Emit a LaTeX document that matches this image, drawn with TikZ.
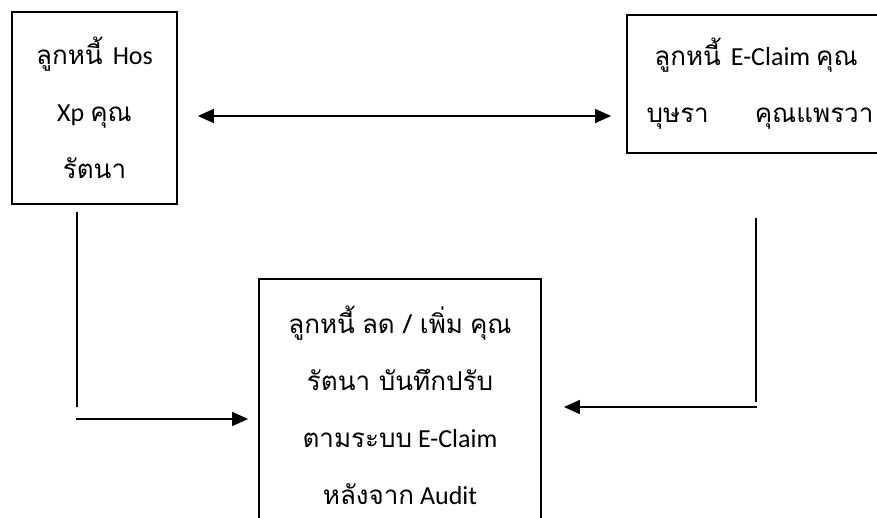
\documentclass[tikz,border=0pt]{standalone}
\usepackage{fontspec}
\setmainfont{Carlito}
\newfontfamily\thaifont[Script=Thai]{Loma}
\newcommand\thx[1]{{\thaifont #1}}
\usetikzlibrary{arrows.meta,calc}
\begin{document}
\begin{tikzpicture}[x=1pt,y=-1pt,
 box/.style={draw, line width=1.8pt, align=center, font=\fontsize{26}{57}\selectfont, inner sep=0pt},
 conn/.style={line width=1.6pt},
 tip/.tip={Triangle[length=16pt,width=14pt]},
 arr/.style={conn, -tip},
]
\useasboundingbox (0,0) rectangle (877,518);
\clip (0,0) rectangle (877,518);
\node[box, minimum width=165, minimum height=192] (A) at (94.5,108)
  {\thx{ลูกหนี้}\hspace{10pt}Hos\\Xp \thx{คุณ}\\\thx{รัตนา}};
\node[box, minimum width=258, minimum height=138] (B) at (756,84)
  {\thx{ลูกหนี้}\hspace{10pt}E-Claim \thx{คุณ}\\\hspace{8pt}\thx{บุษรา}\hspace{46pt}\thx{คุณแพรวา}};
\node[box, minimum width=282, minimum height=252] (C) at (400,405)
  {\thx{ลูกหนี้}\hspace{7pt}\thx{ลด / เพิ่ม}\hspace{7pt}\thx{คุณ}\\\thx{รัตนา บันทึกปรับ}\\\thx{ตามระบบ} E-Claim\\\thx{หลังจาก} Audit};
\draw[conn, tip-tip] ($(A.east)+(20,8)$) -- ($(A.east -| B.west)+(-15,8)$);
\draw[conn] ($(A.south)+(-17.5,7)$) -- ($(A.south)+(-17.5,202)$);
\draw[arr] ($(C.west)+(-182,14)$) -- ($(C.west)+(-10,14)$);
\draw[conn] ($(B.south)+(0,64)$) -- ($(B.south)+(0,248)$);
\draw[arr] ($(C.east)+(215,2)$) -- ($(C.east)+(22,2)$);
\end{tikzpicture}
\end{document}
